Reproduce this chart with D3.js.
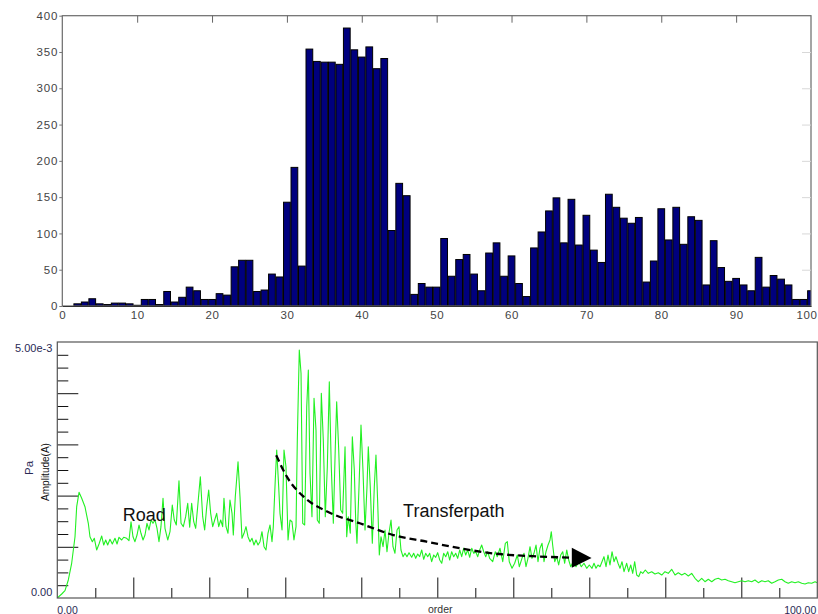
<!DOCTYPE html>
<html><head><meta charset="utf-8">
<script src="https://cdn.jsdelivr.net/npm/d3@7"></script>
<style>
body{margin:0;background:#fff}
svg{display:block}
text{font-family:"Liberation Sans",Arial,sans-serif}
</style></head>
<body><svg id="c" width="818" height="614"></svg>
<script>
// ---------- DATA ----------
// Top panel: histogram, one bar per order 1..100
const barOrders = d3.range(1, 101);
const barCounts = [
  0, 3, 5.5, 10, 3, 2, 4, 4, 3, 1,
  9, 9, 2, 20, 5.5, 12, 26, 21, 9, 9,
  17, 15, 54, 63, 63, 20, 22, 44, 40, 143,
  191, 55, 354, 337, 336, 336, 333, 383, 353, 343,
  357, 327, 341, 104, 169, 152, 16, 31, 26, 26,
  93, 41, 64, 71, 44, 21, 73, 87, 41, 69,
  31, 13, 80, 102, 131, 149, 87, 147, 84, 125,
  77, 60, 154, 136, 121, 114, 122, 33, 62, 134,
  91, 136, 85, 123, 118, 29, 90, 53, 34, 38,
  29, 21, 67, 26, 42, 37, 29, 9, 9, 21
];
const topXTicks = [0, 10, 20, 30, 40, 50, 60, 70, 80, 90, 100];
const topYTicks = [0, 50, 100, 150, 200, 250, 300, 350, 400];

// Bottom panel: spectrum [order, amplitude in units of 1e-3 Pa]
const spectrum = [
  [0,0],[0.58,0.078],[1.01,0.143],[1.45,0.352],[1.89,0.678],[2.11,0.938],[2.33,1.197],[2.55,1.783],[2.86,2.064],
  [3.21,1.947],[3.64,1.783],[4.08,1.459],[4.30,1.197],[4.61,1.100],[4.87,1.166],[5.18,0.938],[5.49,1.055],
  [5.84,1.211],[6.11,1.035],[6.37,1.133],[6.63,1.035],[6.93,1.146],[7.24,1.055],[7.59,1.166],[7.86,1.055],
  [8.12,1.186],[8.47,1.133],[8.74,1.186],[9.13,1.166],[9.43,1.119],[9.70,1.490],[9.96,1.197],[10.22,1.100],
  [10.49,1.230],[10.75,1.426],[11.01,1.264],[11.28,1.133],[11.54,1.230],[11.80,1.459],[12.07,1.328],
  [12.33,1.523],[12.59,1.459],[12.86,1.523],[13.12,1.361],[13.38,1.100],[13.64,1.393],[13.91,1.947],
  [14.17,1.361],[14.53,1.133],[14.83,1.295],[15.13,1.816],[15.39,1.523],[15.66,1.426],[16.01,2.291],
  [16.28,1.459],[16.58,1.393],[16.89,1.588],[17.16,1.850],[17.42,1.381],[17.68,1.850],[17.95,1.490],
  [18.21,1.361],[18.47,1.783],[18.82,2.369],[19.13,1.588],[19.39,1.328],[19.66,1.783],[19.92,2.109],
  [20.18,1.654],[20.45,1.393],[20.71,1.523],[20.97,1.654],[21.24,1.393],[21.50,1.523],[21.76,1.393],
  [21.93,1.947],[22.20,1.393],[22.46,1.264],[22.72,1.914],[22.99,1.654],[23.16,1.230],[23.42,1.979],
  [23.78,2.662],[24.04,1.979],[24.30,1.166],[24.57,1.264],[24.83,1.393],[25.09,1.197],[25.36,1.100],
  [25.62,1.166],[25.88,1.035],[26.14,1.133],[26.41,1.035],[26.67,1.100],[26.93,1.295],[27.20,1.002],
  [27.46,0.938],[27.72,1.264],[27.99,1.426],[28.25,1.100],[28.42,1.393],[28.68,2.305],[28.87,2.891],
  [29.13,2.174],[29.30,1.654],[29.57,1.328],[29.83,2.891],[30.09,2.564],[30.36,1.133],[30.62,1.523],
  [30.88,1.490],[31.14,1.133],[31.41,1.393],[31.58,3.086],[31.84,4.844],[32.07,4.389],[32.29,1.459],
  [32.55,1.426],[32.82,3.736],[33.03,4.453],[33.25,2.436],[33.51,1.588],[33.78,3.900],[34.04,3.281],
  [34.21,1.523],[34.47,1.459],[34.74,3.998],[35.00,3.086],[35.26,1.588],[35.53,2.564],[35.79,4.225],
  [36.05,2.564],[36.32,1.459],[36.58,2.955],[36.76,3.834],[37.03,2.891],[37.29,1.719],[37.55,1.654],
  [37.86,2.955],[38.08,1.197],[38.29,1.588],[38.55,1.264],[38.82,3.150],[39.08,2.500],[39.26,1.523],
  [39.43,1.068],[39.70,2.174],[39.96,3.379],[40.22,2.500],[40.49,1.328],[40.75,2.174],[40.92,2.955],
  [41.18,2.174],[41.45,1.068],[41.71,2.174],[41.93,2.793],[42.16,1.850],[42.37,0.840],[42.59,1.197],
  [42.86,1.002],[43.12,1.328],[43.38,0.904],[43.64,1.264],[43.91,1.523],[44.17,1.002],[44.43,0.873],
  [44.70,1.328],[44.96,1.393],[45.22,0.938],[45.49,0.807],[45.75,0.873],[46.01,0.807],[46.28,0.885],
  [46.63,0.795],[46.89,0.873],[47.16,0.775],[47.42,0.859],[47.68,0.807],[47.95,0.938],[48.21,0.756],
  [48.47,0.873],[48.74,0.807],[49.00,0.873],[49.26,0.709],[49.53,0.840],[49.79,0.795],[50.05,0.885],
  [50.32,0.742],[50.58,0.678],[50.84,0.873],[51.11,0.807],[51.37,0.904],[51.63,0.742],[51.89,0.904],
  [52.16,0.807],[52.42,0.873],[52.68,0.775],[52.95,0.938],[53.21,0.807],[53.47,0.971],[53.74,0.840],
  [54.00,0.938],[54.26,0.795],[54.53,0.971],[54.79,0.873],[55.05,0.904],[55.32,0.807],[55.58,0.938],
  [55.84,1.035],[56.11,0.904],[56.37,0.807],[56.63,0.904],[56.89,0.775],[57.29,0.709],[57.63,0.904],
  [57.89,0.807],[58.25,0.971],[58.61,0.709],[58.95,1.068],[59.21,1.100],[59.47,0.709],[59.83,0.580],
  [60.18,0.678],[60.53,0.840],[60.79,0.611],[61.14,0.775],[61.41,0.873],[61.67,0.611],[61.93,0.775],
  [62.20,1.002],[62.46,0.775],[62.72,0.873],[62.99,1.035],[63.25,0.709],[63.51,0.971],[63.78,1.068],
  [64.04,0.709],[64.30,0.904],[64.57,1.035],[64.83,1.133],[65.00,1.295],[65.18,1.035],[65.45,0.709],
  [65.71,0.807],[65.97,0.645],[66.24,0.840],[66.50,0.904],[66.76,0.678],[67.03,0.938],[67.29,0.742],
  [67.55,0.611],[67.89,0.709],[68.25,0.611],[68.61,0.709],[68.95,0.611],[69.30,0.678],[69.66,0.580],
  [70.00,0.645],[70.36,0.580],[70.62,0.678],[70.88,0.580],[71.14,0.645],[71.41,0.611],[71.67,0.709],
  [71.93,0.807],[72.20,0.611],[72.46,0.840],[72.72,0.645],[72.99,0.904],[73.25,0.709],[73.51,0.807],
  [73.78,0.678],[74.04,0.580],[74.30,0.709],[74.57,0.514],[74.92,0.678],[75.18,0.514],[75.45,0.645],
  [75.71,0.482],[75.97,0.709],[76.24,0.449],[76.50,0.416],[76.76,0.514],[77.03,0.482],[77.37,0.547],
  [77.76,0.482],[78.21,0.514],[78.64,0.469],[79.08,0.494],[79.53,0.449],[79.96,0.514],[80.39,0.482],
  [80.84,0.561],[81.28,0.449],[81.71,0.494],[82.16,0.449],[82.59,0.482],[83.03,0.430],[83.47,0.482],
  [83.91,0.385],[84.34,0.318],[84.79,0.385],[85.22,0.318],[85.66,0.365],[86.11,0.318],[86.54,0.365],
  [86.97,0.385],[87.42,0.352],[87.86,0.365],[88.29,0.338],[88.74,0.318],[89.17,0.299],[89.61,0.318],
  [90.05,0.338],[90.49,0.318],[90.92,0.338],[91.37,0.318],[91.80,0.352],[92.24,0.299],[92.68,0.338],
  [93.12,0.318],[93.55,0.338],[94.00,0.287],[94.43,0.318],[94.87,0.352],[95.32,0.365],[95.75,0.318],
  [96.18,0.287],[96.63,0.318],[97.07,0.299],[97.50,0.318],[97.95,0.287],[98.38,0.273],[98.82,0.299],
  [99.26,0.287],[99.70,0.318],[100,0.30]
];
// dashed "Transferpath" trend arrow [order, amplitude e-3]
const transferPath = [
  [28.8,2.79],[30.2,2.37],[32.4,1.98],[35.5,1.69],[39.8,1.46],[44.2,1.23],[48.6,1.10],
  [53.0,0.97],[57.4,0.87],[63.5,0.81],[67.7,0.787]
];
const arrowTip = [70.3, 0.78];
const bottomYLabels = [{v:5, t:"5.00e-3"}, {v:0, t:"0.00"}];
const bottomXLabels = [{v:0, t:"0.00"}, {v:100, t:"100.00"}];
const bottomMajorX = [10,20,30,40,50,60,70,80,90];
const bottomMinorX = [5,15,25,35,45,55,65,75,85,95];
const bottomMajorY = [1,2,3,4];
const bottomMinorY = [0.25,0.5,0.75,1.25,1.5,1.75,2.25,2.5,2.75,3.25,3.5,3.75,4.25,4.5,4.75];
const annotations = [{x:8.6, y:1.50, t:"Road"}, {x:45.5, y:1.58, t:"Transferpath"}];

// ---------- DRAW ----------
const svg = d3.select("#c");

// ===== Top panel =====
const tx = d3.scaleLinear().domain([0,100]).range([62.3, 811]);
const ty = d3.scaleLinear().domain([0,400]).range([306, 15.7]);
const topG = svg.append("g");
topG.append("clipPath").attr("id","clipTop").append("rect")
  .attr("x", tx(0)).attr("y", ty(400)).attr("width", tx(100)-tx(0)).attr("height", ty(0)-ty(400));

topG.append("g").attr("clip-path","url(#clipTop)")
  .selectAll("rect").data(barOrders).join("rect")
  .attr("x", (d)=>tx(d-0.45))
  .attr("width", (d)=>tx(d+0.45)-tx(d-0.45))
  .attr("y", (d,i)=>ty(barCounts[i]))
  .attr("height", (d,i)=>ty(0)-ty(barCounts[i]))
  .attr("fill","#00007e").attr("stroke","#000").attr("stroke-width",1);

// frame
topG.append("rect").attr("x", tx(0)).attr("y", ty(400))
  .attr("width", tx(100)-tx(0)).attr("height", ty(0)-ty(400))
  .attr("fill","none").attr("stroke","#6a6a6a").attr("stroke-width",1.2);

// left axis labels
const tLeft = topG.append("g").attr("transform",`translate(${tx(0)},0)`)
  .call(d3.axisLeft(ty).tickValues(topYTicks).tickSize(3).tickPadding(1));
tLeft.select(".domain").remove();
tLeft.selectAll("line").attr("stroke","#777");
tLeft.selectAll("text").attr("font-size",11.5).attr("letter-spacing",0.9).attr("fill","#444")
  .attr("font-family",'"Liberation Sans",Arial,sans-serif');

// bottom labels
const tBot = topG.append("g").attr("transform",`translate(0,${ty(0)})`)
  .call(d3.axisBottom(tx).tickValues(topXTicks).tickSize(0).tickPadding(5));
tBot.select(".domain").attr("stroke","#333");
tBot.selectAll("text").attr("font-size",11.5).attr("letter-spacing",0.6).attr("fill","#444")
  .attr("font-family",'"Liberation Sans",Arial,sans-serif')
  .attr("text-anchor", d => d === 100 ? "end" : "middle")
  .attr("x", d => d === 100 ? 817 - tx(100) : 0);

// top inward ticks
const tTop = topG.append("g").attr("transform",`translate(0,${ty(400)})`)
  .call(d3.axisTop(tx).tickValues(topXTicks.slice(1,-1)).tickSize(-7).tickFormat(""));
tTop.select(".domain").remove();
tTop.selectAll("line").attr("stroke","#666");

// right faint ticks
const tRight = topG.append("g").attr("transform",`translate(${tx(100)},0)`)
  .call(d3.axisRight(ty).tickValues(topYTicks.slice(1,-1)).tickSize(-9).tickFormat(""));
tRight.select(".domain").remove();
tRight.selectAll("line").attr("stroke","#d8d8d8");

// ===== Bottom panel =====
const bx = d3.scaleLinear().domain([0,100]).range([57.3, 817.3]);
const by = d3.scaleLinear().domain([0,5]).range([598, 342]);
const botG = svg.append("g");
botG.append("clipPath").attr("id","clipBot").append("rect")
  .attr("x", bx(0)).attr("y", by(5)).attr("width", bx(100)-bx(0)).attr("height", by(0)-by(5));

// ticks
function ticksY(vals, len){
  const g = botG.append("g").attr("transform",`translate(${bx(0)},0)`)
    .call(d3.axisLeft(by).tickValues(vals).tickSize(-len).tickFormat(""));
  g.select(".domain").remove();
  g.selectAll("line").attr("stroke","#111").attr("stroke-width",1);
}
function ticksX(vals, len){
  const g = botG.append("g").attr("transform",`translate(0,${by(0)})`)
    .call(d3.axisBottom(bx).tickValues(vals).tickSize(-len).tickFormat(""));
  g.select(".domain").remove();
  g.selectAll("line").attr("stroke","#111").attr("stroke-width",1);
}
ticksY(bottomMajorY, 21);
ticksY(bottomMinorY, 11);
ticksX(bottomMajorX, 20.5);
ticksX(bottomMinorX, 10);

// green spectrum line
const specLine = d3.line().x(d=>bx(d[0])).y(d=>by(d[1]));
botG.append("path").datum(spectrum).attr("clip-path","url(#clipBot)")
  .attr("d", specLine).attr("fill","none").attr("stroke","#22f022").attr("stroke-width",1.1)
  .attr("stroke-linejoin","round");

// frame
botG.append("rect").attr("x", bx(0)).attr("y", by(5))
  .attr("width", bx(100)-bx(0)).attr("height", by(0)-by(5))
  .attr("fill","none").attr("stroke","#555").attr("stroke-width",1.2);

// dashed arrow
const trendLine = d3.line().x(d=>bx(d[0])).y(d=>by(d[1])).curve(d3.curveMonotoneX);
botG.append("path").datum(transferPath).attr("d", trendLine)
  .attr("fill","none").attr("stroke","#000").attr("stroke-width",2.3).attr("stroke-dasharray","7,4");
const lastPt = transferPath[transferPath.length-1];
const bxl = bx(lastPt[0]), byl = by(lastPt[1]);
botG.append("path")
  .attr("d", `M${bxl},${byl-10}L${bx(arrowTip[0])},${by(arrowTip[1])}L${bxl},${byl+10}Z`)
  .attr("fill","#000");

// annotations
botG.selectAll("text.ann").data(annotations).join("text").attr("class","ann")
  .attr("x", d=>bx(d.x)).attr("y", d=>by(d.y)).attr("font-size",18).attr("fill","#111").text(d=>d.t);

// y labels
botG.selectAll("text.yl").data(bottomYLabels).join("text").attr("class","yl")
  .attr("x", bx(0)-5).attr("y", d=> d.v===5 ? by(d.v)+10 : by(d.v)-2.5)
  .attr("text-anchor","end").attr("font-size",11).attr("fill","#2a2a55").text(d=>d.t);
// x labels
botG.selectAll("text.xl").data(bottomXLabels).join("text").attr("class","xl")
  .attr("x", d=>bx(d.v) + (d.v===0 ? 0 : -1)).attr("y", 613.5)
  .attr("text-anchor", d=> d.v===0 ? "start" : "end")
  .attr("font-size",10.5).attr("fill","#2a2a55").text(d=>d.t);
// axis titles
botG.append("text").attr("x", bx(50)+3).attr("y", 613).attr("text-anchor","middle")
  .attr("font-size",10.5).attr("fill","#333").text("order");
botG.append("text").attr("transform",`translate(33,${(by(0)+by(5))/2 - 2}) rotate(-90)`)
  .attr("text-anchor","middle").attr("font-size",11.5).attr("fill","#2a2a55").text("Pa");
botG.append("text").attr("transform",`translate(49,${(by(0)+by(5))/2 + 2}) rotate(-90)`)
  .attr("text-anchor","middle").attr("font-size",10).attr("fill","#111").text("Amplitude(A)");
</script></body></html>
